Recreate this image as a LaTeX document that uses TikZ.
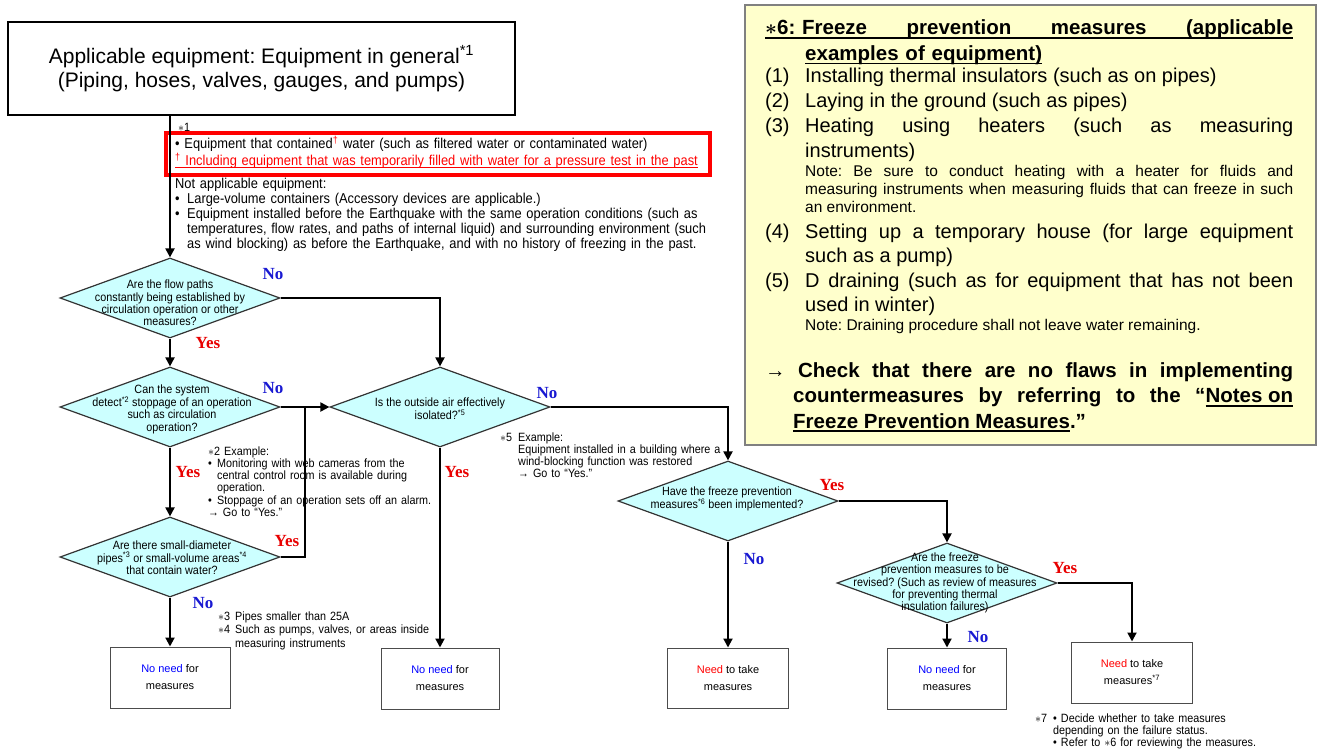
\documentclass[tikz,border=0pt]{standalone}
\usepackage{fontspec}
\setmainfont{Liberation Sans}
\newfontfamily\nf[FakeStretch=0.9]{Liberation Sans}
\newfontfamily\yn{Liberation Serif}
\usetikzlibrary{shapes.geometric,arrows.meta}
\definecolor{dcyan}{RGB}{204,255,255}
\definecolor{ylw}{RGB}{255,255,204}
\definecolor{bdgray}{RGB}{128,128,128}
\definecolor{nblue}{RGB}{0,0,255}
\definecolor{nred}{RGB}{255,0,0}
\definecolor{yesred}{RGB}{232,0,0}
\definecolor{noblue}{RGB}{25,25,210}
\frenchspacing
% underline helper: \ulx{depth}{thickness}{content}
\newcommand\ulx[3]{\setbox0\hbox{#3}\rlap{\rule[-#1]{\wd0}{#2}}\box0}
\tikzset{
  every node/.style={inner sep=0pt},
  dia/.style={diamond, draw=black!80, line width=1.2pt, fill=dcyan, minimum width=220pt, minimum height=80pt},
  dtxt/.style={font=\nf\fontsize{12}{12.3}\selectfont, align=center},
  rbox/.style={draw=black!70, line width=1pt, fill=white, align=center, font=\fontsize{11}{17}\selectfont},
  arr/.style={line width=2pt, -{Triangle[length=9pt,width=9pt]}},
  conn/.style={line width=2pt},
  yes/.style={font=\yn\bfseries\fontsize{17}{17}\selectfont, text=yesred},
  no/.style={font=\yn\bfseries\fontsize{17}{17}\selectfont, text=noblue},
  note/.style={font=\nf\fontsize{12}{12.3}\selectfont, anchor=base west, align=left},
  bignote/.style={font=\nf\fontsize{14.3}{14.8}\selectfont, anchor=base west, align=left},
  yitem/.style={font=\fontsize{20}{24.5}\selectfont, anchor=base west, text width=528pt, align=justify},
  ynote/.style={font=\fontsize{15.5}{18}\selectfont, anchor=base west, text width=488pt, align=justify},
  ybold/.style={font=\bfseries\fontsize{20.5}{25.5}\selectfont, anchor=base west, text width=528pt, align=justify}
}
\begin{document}
\begin{tikzpicture}[x=1pt,y=-1pt]
\useasboundingbox (0,0) rectangle (1325,754);

% ---------- yellow box *6 ----------
\node[draw=bdgray, line width=2.5pt, fill=ylw, minimum width=571pt, minimum height=440pt] (yb) at (1030.5,225) {};
\node[ybold, align=left] (h6) at (765,35) {\ulx{4pt}{1.6pt}{\hbox to 528pt{\boldmath$\ast$6: Freeze\hfill prevention\hfill measures\hfill (applicable}}\par
\hspace*{40pt}\ulx{4pt}{1.6pt}{examples of equipment)}\par};
\node[yitem] (i1) at (765,83) {\makebox[40pt][l]{(1)}Installing thermal insulators (such as on pipes)\par};
\node[yitem] (i2) at (765,108) {\makebox[40pt][l]{(2)}Laying in the ground (such as pipes)\par};
\node[yitem] (i3) at (765,133) {\hangindent=40pt\hangafter=1 \makebox[40pt][l]{(3)}Heating using heaters (such as measuring\linebreak instruments)\par};
\node[ynote] (nt3) at (805,177) {Note: Be sure to conduct heating with a heater for fluids and\linebreak measuring instruments when measuring fluids that can freeze in such\linebreak an environment.\par};
\node[yitem] (i4) at (765,238) {\hangindent=40pt\hangafter=1 \makebox[40pt][l]{(4)}Setting up a temporary house (for large equipment\linebreak such as a pump)\par};
\node[yitem] (i5) at (765,287) {\hangindent=40pt\hangafter=1 \makebox[40pt][l]{(5)}D draining (such as for equipment that has not been\linebreak used in winter)\par};
\node[ynote] (nt5) at (805,330) {Note: Draining procedure shall not leave water remaining.\par};
\node[ybold] (chk) at (765,377) {\hangindent=28pt\hangafter=1 → Check that there are no flaws in implementing\linebreak countermeasures by referring to the “\ulx{4pt}{1.6pt}{Notes on}\linebreak \ulx{4pt}{1.6pt}{Freeze Prevention Measures}.”\par};

% ---------- top box and notes ----------
\node[draw, line width=2pt, minimum width=507pt, minimum height=93pt, font=\fontsize{21}{24}\selectfont, align=center] (top) at (261.5,68.5) {Applicable equipment: Equipment in general\textsuperscript{*1}\\(Piping, hoses, valves, gauges, and pumps)};
\node[note] (n1) at (178,132) {$\ast$1};
\node[draw=nred, line width=4pt, minimum width=544pt, minimum height=42pt] (rb) at (438,154) {};
\node[bignote, text width=530pt] (rbt) at (175,149) {• Equipment that contained{\color{nred}\textsuperscript{†}} water (such as filtered water or contaminated water)\newline{\color{nred}\ulx{2.5pt}{1pt}{\textsuperscript{†} Including equipment that was temporarily filled with water for a pressure test in the past}}\par};
\node[bignote, text width=560pt] (na) at (175,189) {Not applicable equipment:\par
\hangindent=12pt\hangafter=1\makebox[12pt][l]{•}Large-volume containers (Accessory devices are applicable.)\par
\hangindent=12pt\hangafter=1\makebox[12pt][l]{•}Equipment installed before the Earthquake with the same operation conditions (such as\newline temperatures, flow rates, and paths of internal liquid) and surrounding environment (such\newline as wind blocking) as before the Earthquake, and with no history of freezing in the past.\par};

% ---------- diamonds ----------
\node[dia] (d1) at (170,298) {};
\node[dtxt] (t1) at (170,303) {Are the flow paths\\constantly being established by\\circulation operation or other\\measures?};
\node[dia] (d2) at (170,407) {};
\node[dtxt] (t2) at (172,409) {Can the system\\detect\textsuperscript{*2} stoppage of an operation\\such as circulation\\operation?};
\node[dia] (d3) at (440,407) {};
\node[dtxt] (t3) at (440,409) {Is the outside air effectively\\isolated?\textsuperscript{*5}};
\node[dia] (d4) at (170,557) {};
\node[dtxt] (t4) at (172,558) {Are there small-diameter\\pipes\textsuperscript{*3} or small-volume areas\textsuperscript{*4}\\that contain water?};
\node[dia] (d5) at (728,501) {};
\node[dtxt] (t5) at (727,499) {Have the freeze prevention\\measures\textsuperscript{*6} been implemented?};
\node[dia] (d6) at (947,583) {};
\node[dtxt] (t6) at (945,583) {Are the freeze\\prevention measures to be\\revised? (Such as review of measures\\for preventing thermal\\insulation failures)};

% ---------- result boxes ----------
\node[rbox, minimum width=120pt, minimum height=61pt] (b1) at (170,677.5) {{\color{nblue}No need} for\\measures};
\node[rbox, minimum width=118pt, minimum height=61pt] (b2) at (440,678.5) {{\color{nblue}No need} for\\measures};
\node[rbox, minimum width=121pt, minimum height=60pt] (b3) at (728,678) {{\color{nred}Need} to take\\measures};
\node[rbox, minimum width=119pt, minimum height=61pt] (b4) at (947,678.5) {{\color{nblue}No need} for\\measures};
\node[rbox, minimum width=121pt, minimum height=61pt] (b5) at (1132,672.5) {{\color{nred}Need} to take\\measures\textsuperscript{*7}};

% ---------- connectors ----------
\coordinate (j) at (305,407);
\draw[arr] (top.south -| d1.north) -- (d1.north);
\draw[arr] (d1.east) -| (d3.north);
\draw[arr] (d1.south) -- (d2.north);
\draw[arr] (d2.east) -- (d3.west);
\draw[conn] (d4.east) -| (j);
\draw[arr] (d2.south) -- (d4.north);
\draw[arr] (d4.south) -- (b1.north);
\draw[arr] (d3.south) -- (b2.north);
\draw[arr] (d3.east) -| (d5.north);
\draw[arr] (d5.south) -- (b3.north);
\draw[arr] (d5.east) -| (d6.north);
\draw[arr] (d6.south) -- (b4.north);
\draw[arr] (d6.east) -| (b5.north);

% ---------- yes / no labels ----------
\node[no] (no1) at (273,274) {No};
\node[yes] (ye1) at (208,343) {Yes};
\node[no] (no2) at (273,388) {No};
\node[yes] (ye2) at (188,472) {Yes};
\node[yes] (ye4) at (287,541) {Yes};
\node[no] (no4) at (203,603) {No};
\node[no] (no3) at (547,393) {No};
\node[yes] (ye3) at (457,472) {Yes};
\node[yes] (ye5) at (832,485) {Yes};
\node[no] (no5) at (754,559) {No};
\node[yes] (ye6) at (1065,568) {Yes};
\node[no] (no6) at (978,637) {No};

% ---------- notes ----------
\node[note, text width=240pt] (n2) at (208,455) {$\ast$2 Example:\par
\hangindent=9pt\hangafter=1\makebox[9pt][l]{•}Monitoring with web cameras from the\newline central control room is available during\newline operation.\par
\makebox[9pt][l]{•}Stoppage of an operation sets off an alarm.\par
→ Go to “Yes.”\par};
\node[note, text width=260pt, font=\nf\fontsize{12}{13.5}\selectfont] (n34) at (218,620) {\makebox[17pt][l]{$\ast$3}Pipes smaller than 25A\par
\hangindent=17pt\hangafter=1\makebox[17pt][l]{$\ast$4}Such as pumps, valves, or areas inside\newline measuring instruments\par};
\node[note, text width=240pt] (n5) at (500,441) {\hangindent=18pt\hangafter=1\makebox[18pt][l]{$\ast$5}Example:\newline Equipment installed in a building where a\newline wind-blocking function was restored\newline → Go to “Yes.”\par};
\node[note, text width=260pt] (n7) at (1035,722) {\hangindent=18pt\hangafter=1\makebox[18pt][l]{$\ast$7}• Decide whether to take measures\newline depending on the failure status.\newline • Refer to $\ast$6 for reviewing the measures.\par};
\end{tikzpicture}
\end{document}
